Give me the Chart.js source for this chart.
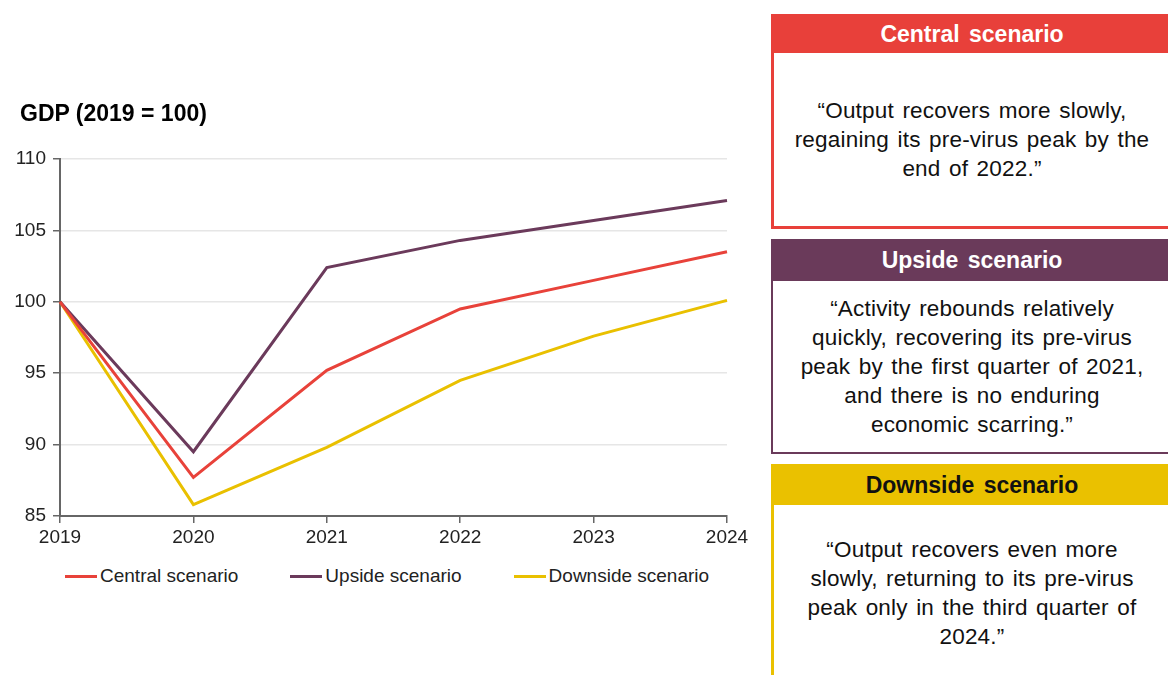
<!DOCTYPE html>
<html>
<head>
<meta charset="utf-8">
<script src="https://cdn.jsdelivr.net/npm/chart.js@4/dist/chart.umd.min.js"></script>
<style>
  html, body { margin: 0; padding: 0; background: #fff; }
  body { width: 1168px; height: 675px; overflow: hidden; position: relative; font-family: "Liberation Sans", Arial, sans-serif; color: #111; }
  #chartWrap { position: absolute; left: 0; top: 0; width: 765px; height: 560px; }
  #ytitle { position: absolute; left: 20px; top: 100px; font-size: 23px; font-weight: bold; line-height: 26px; color: #000; }
  #legend { position: absolute; left: 65px; top: 564px; display: flex; gap: 52px; font-size: 19px; color: #222; line-height: 24px; }
  #legend .item { display: flex; align-items: center; }
  #legend .swatch { width: 32px; height: 3px; margin-right: 3px; }
  .box { position: absolute; left: 771px; width: 402px; box-sizing: border-box; background: #fff; display: flex; flex-direction: column; }
  .box .head { height: 39px; line-height: 40px; text-align: center; font-size: 23px; font-weight: bold; color: #fff; word-spacing: 3px; }
  .box .body { flex: 1; display: flex; align-items: center; justify-content: center; text-align: center; font-size: 22.5px; line-height: 29px; word-spacing: 2px; letter-spacing: 0.2px; }
</style>
</head>
<body>
<div id="chartWrap"><canvas id="gdp"></canvas></div>
<div id="ytitle">GDP (2019 = 100)</div>
<div id="legend"></div>

<div class="box" style="top:14px;height:215px;border:3px solid #e8403a;border-top:0;">
  <div class="head" style="background:#e8403a;margin:0 -3px;">Central scenario</div>
  <div class="body">“Output recovers more slowly,<br>regaining its pre-virus peak by the<br>end of 2022.”</div>
</div>
<div class="box" style="top:239px;height:215px;border:2px solid #6a3a5a;border-top:0;">
  <div class="head" style="background:#6a3a5a;margin:0 -2px;height:42px;line-height:42px;">Upside scenario</div>
  <div class="body">“Activity rebounds relatively<br>quickly, recovering its pre-virus<br>peak by the first quarter of 2021,<br>and there is no enduring<br>economic scarring.”</div>
</div>
<div class="box" style="top:464px;height:220px;border:3px solid #eac100;border-top:0;">
  <div class="head" style="background:#eac100;color:#111;margin:0 -3px;height:41px;line-height:42px;">Downside scenario</div>
  <div class="body">“Output recovers even more<br>slowly, returning to its pre-virus<br>peak only in the third quarter of<br>2024.”</div>
</div>

<script>
// values
const years = ["2019", "2020", "2021", "2022", "2023", "2024"];
const central = [100, 87.7, 95.2, 99.5, 101.5, 103.5];
const upside = [100, 89.5, 102.4, 104.3, 105.7, 107.1];
const downside = [100, 85.8, 89.8, 94.5, 97.6, 100.1];
const yTicks = [85, 90, 95, 100, 105, 110];

const RED = "#e8423a";
const PURPLE = "#6b3a5b";
const YELLOW = "#e9c000";

const axisColor = "#666";
const tickFont = { family: "Liberation Sans, Arial, sans-serif", size: 19 };

function line(label, data, color) {
  return {
    label,
    data,
    borderColor: color,
    backgroundColor: color,
    borderWidth: 3,
    pointRadius: 0,
    tension: 0,
  };
}

const chart = new Chart(document.getElementById("gdp"), {
  type: "line",
  data: {
    labels: years,
    datasets: [
      line("Central scenario", central, RED),
      line("Upside scenario", upside, PURPLE),
      line("Downside scenario", downside, YELLOW),
    ],
  },
  options: {
    responsive: true,
    maintainAspectRatio: false,
    animation: false,
    layout: { padding: { left: 0, top: 159, right: 38, bottom: 4 } },
    plugins: { legend: { display: false }, tooltip: { enabled: false } },
    scales: {
      x: {
        offset: false,
        grid: { drawOnChartArea: false, tickColor: axisColor, tickLength: 7, lineWidth: 1.5 },
        border: { color: axisColor, width: 2 },
        ticks: { color: "#222", font: tickFont, padding: 3, maxRotation: 0 },
        afterFit: (s) => { s.height = 40; },
      },
      y: {
        min: yTicks[0],
        max: yTicks[yTicks.length - 1],
        afterBuildTicks: (s) => { s.ticks = yTicks.map((v) => ({ value: v })); },
        grid: { color: "#e6e6e6", lineWidth: 1.5, tickColor: axisColor, tickLength: 7 },
        border: { color: axisColor, width: 2 },
        ticks: { color: "#222", font: tickFont, padding: 7 },
        afterFit: (s) => { s.width = 60; },
      },
    },
  },
});

// legend as html, built from the chart's datasets
const legendEl = document.getElementById("legend");
chart.data.datasets.forEach((ds) => {
  const item = document.createElement("div");
  item.className = "item";
  item.innerHTML = `<span class="swatch" style="background:${ds.borderColor}"></span><span>${ds.label}</span>`;
  legendEl.appendChild(item);
});
</script>
</body>
</html>
